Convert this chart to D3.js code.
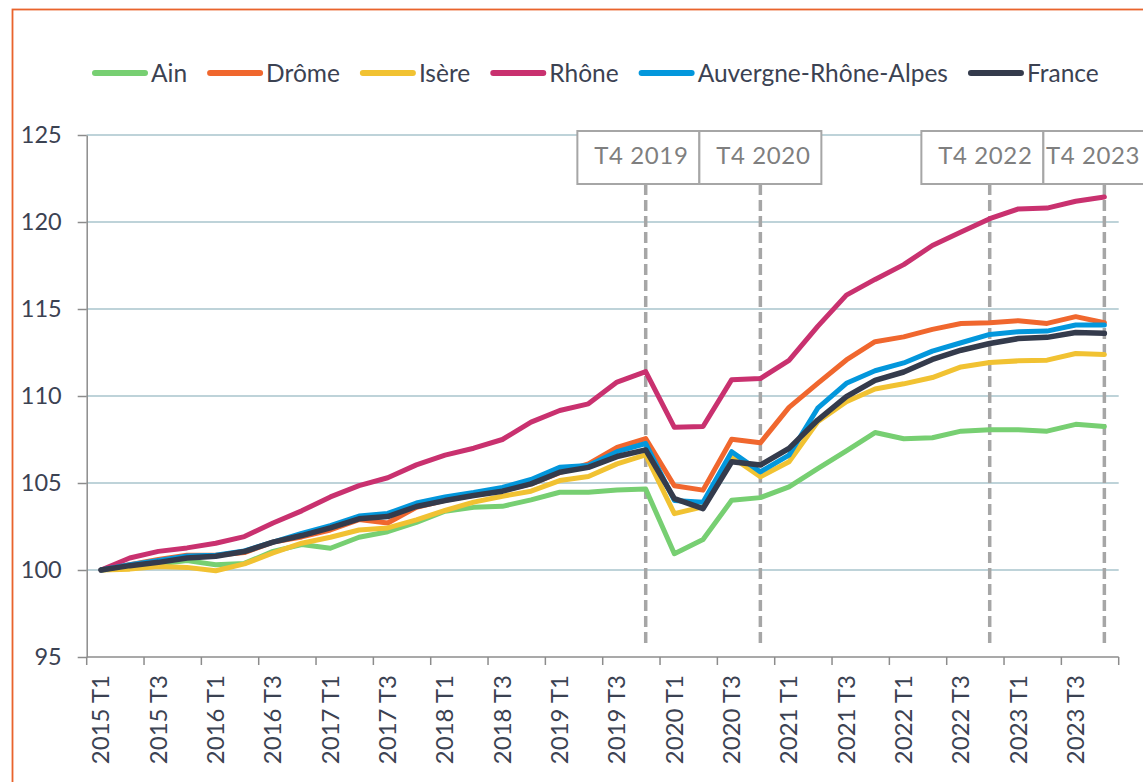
<!DOCTYPE html>
<html>
<head>
<meta charset="utf-8">
<script src="https://cdn.jsdelivr.net/npm/d3@7"></script>
<style>
  body { margin: 0; background: #fff; }
  svg { display: block; font-family: Lato, "Open Sans", sans-serif; }
</style>
</head>
<body>
<div id="chart"></div>
<script>
// trimestres 2015 T1 -> 2023 T4
const quarters = [
  "2015 T1", "2015 T2", "2015 T3", "2015 T4",
  "2016 T1", "2016 T2", "2016 T3", "2016 T4",
  "2017 T1", "2017 T2", "2017 T3", "2017 T4",
  "2018 T1", "2018 T2", "2018 T3", "2018 T4",
  "2019 T1", "2019 T2", "2019 T3", "2019 T4",
  "2020 T1", "2020 T2", "2020 T3", "2020 T4",
  "2021 T1", "2021 T2", "2021 T3", "2021 T4",
  "2022 T1", "2022 T2", "2022 T3", "2022 T4",
  "2023 T1", "2023 T2", "2023 T3", "2023 T4"
];

const ain = [100, 100.15, 100.35, 100.54, 100.3, 100.38, 101.07, 101.46, 101.25, 101.88, 102.2, 102.74,
  103.38, 103.6, 103.66, 104.03, 104.47, 104.47, 104.6, 104.65, 100.94, 101.75, 104.01, 104.16,
  104.78, 105.83, 106.85, 107.9, 107.54, 107.6, 107.98, 108.06, 108.06, 107.98, 108.37, 108.25];

const drome = [100, 100.3, 100.6, 100.85, 100.85, 101.0, 101.6, 101.9, 102.3, 102.9, 102.7, 103.6,
  104.0, 104.3, 104.55, 104.95, 105.6, 106.1, 107.05, 107.55, 104.84, 104.59, 107.52, 107.31,
  109.35, 110.73, 112.07, 113.12, 113.4, 113.83, 114.17, 114.21, 114.33, 114.17, 114.56, 114.21];

const isere = [100, 100.05, 100.2, 100.15, 99.96, 100.35, 100.98, 101.54, 101.88, 102.3, 102.42, 102.88,
  103.42, 103.9, 104.24, 104.53, 105.14, 105.37, 106.1, 106.62, 103.24, 103.63, 106.5, 105.36,
  106.22, 108.52, 109.67, 110.4, 110.7, 111.06, 111.67, 111.92, 112.02, 112.06, 112.44, 112.38];

const rhone = [100, 100.69, 101.07, 101.27, 101.54, 101.92, 102.7, 103.4, 104.2, 104.85, 105.3, 106.04,
  106.6, 107.0, 107.5, 108.5, 109.17, 109.55, 110.8, 111.4, 108.2, 108.25, 110.94, 111.0,
  112.05, 114.0, 115.8, 116.7, 117.55, 118.65, 119.42, 120.19, 120.75, 120.8, 121.19, 121.44];

const aura = [100, 100.3, 100.55, 100.8, 100.85, 101.1, 101.6, 102.1, 102.55, 103.1, 103.25, 103.85,
  104.2, 104.45, 104.75, 105.2, 105.9, 106.0, 106.8, 107.27, 104.0, 103.9, 106.8, 105.64,
  106.6, 109.3, 110.73, 111.45, 111.9, 112.58, 113.06, 113.54, 113.69, 113.73, 114.08, 114.08];

const france = [100, 100.25, 100.44, 100.69, 100.79, 101.06, 101.6, 101.98, 102.42, 102.94, 103.07, 103.65,
  103.99, 104.28, 104.53, 104.95, 105.62, 105.9, 106.52, 106.9, 104.1, 103.53, 106.22, 106.03,
  106.99, 108.62, 109.96, 110.9, 111.38, 112.1, 112.63, 113.02, 113.3, 113.37, 113.65, 113.6];

const seriesNames = ["Ain", "Drôme", "Isère", "Rhône", "Auvergne-Rhône-Alpes", "France"];
const seriesValues = [ain, drome, isere, rhone, aura, france];
const seriesColors = ["#77cf72", "#f0672e", "#f1c232", "#c9316f", "#0397dc", "#343b4c"];

const yTicks = [95, 100, 105, 110, 115, 120, 125];

const markers = [
  { q: "2019 T4", label: "T4 2019" },
  { q: "2020 T4", label: "T4 2020" },
  { q: "2022 T4", label: "T4 2022" },
  { q: "2023 T4", label: "T4 2023" }
];

const width = 1143;
const height = 782;
const plotLeft = 86.7;
const plotRight = 1118.7;
const plotTop = 135;
const plotBottom = 657;

const textColor = "#3b4252";
const axisColor = "#8c8c8c";

let svg = d3.select("#chart").append("svg")
    .attr("width", width)
    .attr("height", height);

// cadre orange
svg.append("rect")
    .attr("x", 12.5)
    .attr("y", 9.5)
    .attr("width", 1200)
    .attr("height", 800)
    .attr("fill", "none")
    .attr("stroke", "#e9632c")
    .attr("stroke-width", 1.8);

let x = d3.scaleBand()
    .domain(quarters)
    .range([plotLeft, plotRight]);

let y = d3.scaleLinear()
    .domain([95, 125])
    .range([plotBottom, plotTop]);

const xc = q => x(q) + x.bandwidth() / 2;

// grille
svg.append("g")
    .selectAll("line")
    .data(yTicks.slice(1))
    .join("line")
    .attr("x1", plotLeft)
    .attr("x2", plotRight)
    .attr("y1", d => y(d))
    .attr("y2", d => y(d))
    .attr("stroke", "#a9c5cc")
    .attr("stroke-width", 1.5);

// axe Y
let yAxis = svg.append("g")
    .attr("transform", `translate(${plotLeft},0)`)
    .call(d3.axisLeft(y).tickValues(yTicks).tickSize(9).tickSizeOuter(0).tickPadding(16));
yAxis.select(".domain").attr("stroke", axisColor).attr("stroke-width", 1.5);
yAxis.selectAll(".tick line").attr("stroke", axisColor).attr("stroke-width", 1.5);
yAxis.selectAll(".tick text")
    .attr("fill", textColor)
    .style("font-size", "23.5px")
    .style("font-family", "Lato, sans-serif");

// axe X
let xAxis = svg.append("g")
    .attr("transform", `translate(0,${plotBottom})`);
xAxis.append("line")
    .attr("x1", plotLeft)
    .attr("x2", plotRight)
    .attr("stroke", axisColor)
    .attr("stroke-width", 1.5);

const labelQuarters = quarters.filter((q, i) => i % 2 === 0);
const tickPos = labelQuarters.map(q => x(q)).concat([plotRight]);

xAxis.selectAll(".xtick")
    .data(tickPos)
    .join("line")
    .attr("class", "xtick")
    .attr("x1", d => d)
    .attr("x2", d => d)
    .attr("y1", 0)
    .attr("y2", 8)
    .attr("stroke", axisColor)
    .attr("stroke-width", 1.5);

xAxis.selectAll(".xlabel")
    .data(labelQuarters)
    .join("text")
    .attr("class", "xlabel")
    .attr("transform", q => `translate(${xc(q)},18) rotate(-90)`)
    .attr("text-anchor", "end")
    .attr("dy", "0.35em")
    .attr("fill", textColor)
    .style("font-size", "24px")
    .text(q => q);

// repères verticaux + étiquettes
const boxW = 122;
const boxH = 53;
const boxTop = 131;
let boxes = markers.map(m => ({ ...m, cx: xc(m.q), left: xc(m.q) - boxW / 2 }));
for (let i = boxes.length - 2; i >= 0; i--) {
    if (boxes[i].left + boxW > boxes[i + 1].left) {
        boxes[i].left = boxes[i + 1].left - boxW;
    }
}

svg.append("g")
    .selectAll("line")
    .data(boxes)
    .join("line")
    .attr("x1", d => d.cx)
    .attr("x2", d => d.cx)
    .attr("y1", boxTop + boxH)
    .attr("y2", plotBottom - 10)
    .attr("stroke", "#a6a6a6")
    .attr("stroke-width", 3.5)
    .attr("stroke-dasharray", "11,5");

// courbes
let line = d3.line()
    .x((d, i) => xc(quarters[i]))
    .y(d => y(d));

svg.append("g")
    .selectAll("path")
    .data(seriesValues)
    .join("path")
    .attr("d", d => line(d))
    .attr("fill", "none")
    .attr("stroke", (d, i) => seriesColors[i])
    .attr("stroke-width", (d, i) => i === 5 ? 5.5 : 5)
    .attr("stroke-linejoin", "round")
    .attr("stroke-linecap", "round");

let boxG = svg.append("g")
    .selectAll("g")
    .data(boxes)
    .join("g");

boxG.append("rect")
    .attr("x", d => d.left)
    .attr("y", boxTop)
    .attr("width", boxW)
    .attr("height", boxH)
    .attr("fill", "#fff")
    .attr("stroke", "#a6a6a6")
    .attr("stroke-width", 2);

boxG.append("text")
    .attr("y", boxTop + 33)
    .attr("text-anchor", "start")
    .attr("fill", "#7f7f7f")
    .style("font-size", "24px")
    .style("letter-spacing", "0.6px")
    .text(d => d.label)
    .attr("x", function(d) {
        const w = this.getComputedTextLength();
        // centré dans la boîte, mais sans dépasser le bord droit
        return Math.min(d.left + (boxW - w) / 2 + 3, width - 3 - w);
    });

// légende
let legend = svg.append("g");
let lx = 92;
const ly = 73;
seriesNames.forEach((name, i) => {
    legend.append("line")
        .attr("x1", lx + 3)
        .attr("x2", lx + 53)
        .attr("y1", ly)
        .attr("y2", ly)
        .attr("stroke", seriesColors[i])
        .attr("stroke-width", 6)
        .attr("stroke-linecap", "round");
    let t = legend.append("text")
        .attr("x", lx + 59)
        .attr("y", ly)
        .attr("dy", "0.35em")
        .attr("fill", textColor)
        .style("font-size", "24.5px")
        .text(name);
    lx += 59 + t.node().getComputedTextLength() + 20;
});
</script>
</body>
</html>
